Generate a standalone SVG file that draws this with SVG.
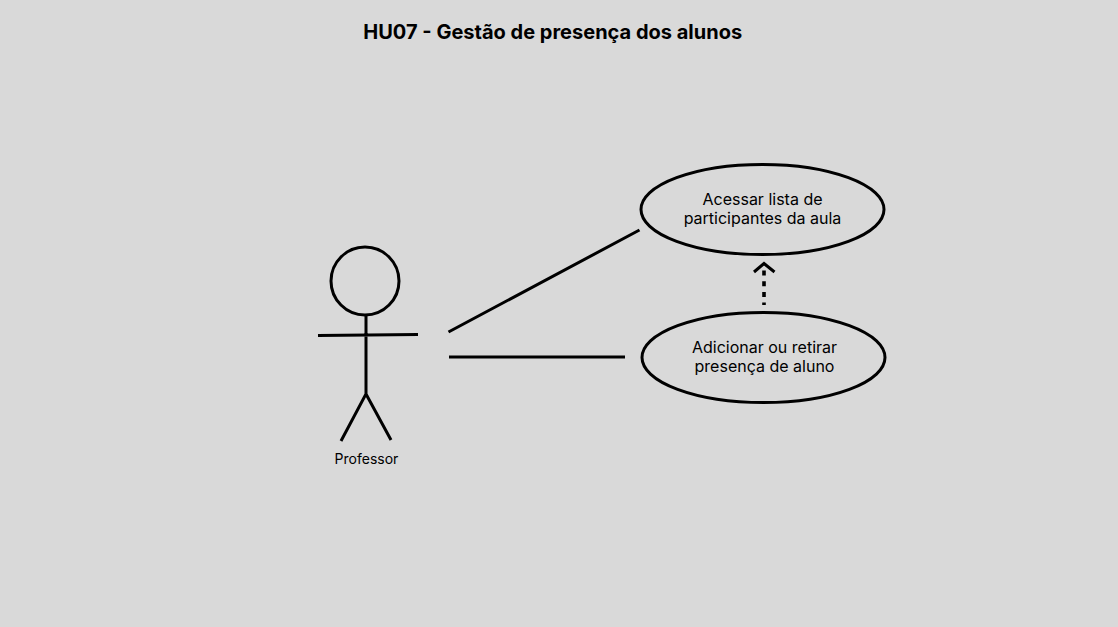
<svg xmlns="http://www.w3.org/2000/svg" width="1118" height="627" viewBox="0 0 1118 627">
<style>
text{font-family:Inter,"Liberation Sans",sans-serif;fill:#000;text-anchor:middle}
.l{fill:none;stroke:#000;stroke-width:3}
.u{font-size:16px}
</style>
<rect width="1118" height="627" fill="#d9d9d9"/>
<text id="title" x="552.700" y="39" font-size="20" font-weight="700">HU07 - Gestão de presença dos alunos</text>
<g id="actor-professor">
<circle class="l" cx="365" cy="281" r="34"/>
<path class="l" d="M318 335.500L418 334.500M366 315V394L341 441M366 394L391 440"/>
<text x="366.500" y="464" font-size="14">Professor</text>
</g>
<g id="connectors">
<path class="l" d="M448.500 332L639.500 230M449 357H625"/>
<path class="l" style="stroke-width:3.600" stroke-dasharray="5 5.700" d="M764 270.500V305"/>
<path class="l" d="M754 272L764 263.500L774.500 272"/>
</g>
<g id="uc-acessar">
<ellipse class="l" cx="762.500" cy="209.500" rx="121.500" ry="45"/>
<text class="u" x="762.500" y="205">Acessar lista de</text>
<text class="u" x="762.500" y="224">participantes da aula</text>
</g>
<g id="uc-adicionar">
<ellipse class="l" cx="763.500" cy="357.500" rx="121.500" ry="45"/>
<text class="u" x="764.500" y="353">Adicionar ou retirar</text>
<text class="u" x="764.500" y="372">presença de aluno</text>
</g>
</svg>
